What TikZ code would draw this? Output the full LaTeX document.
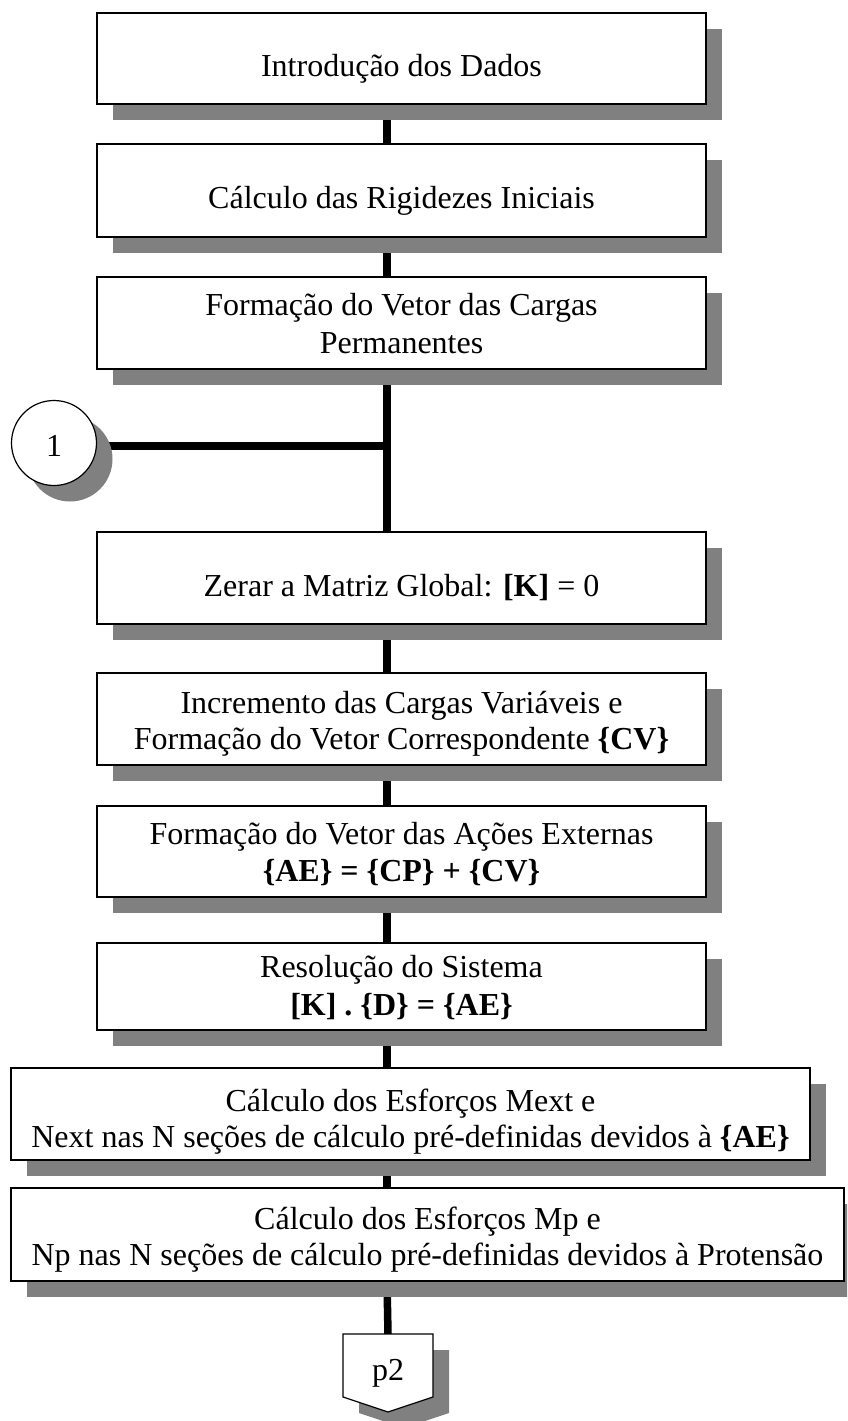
\documentclass[tikz,border=0pt]{standalone}
\usepackage{fontspec}
\setmainfont{Liberation Serif}
\usetikzlibrary{shadows,backgrounds}
\definecolor{shgray}{HTML}{808080}
\begin{document}
\begin{tikzpicture}[x=1pt,y=-1pt,
  box/.style={draw=black, line width=1.6pt, fill=white, rectangle, inner sep=0pt,
    general shadow={fill=shgray, shadow xshift=16pt, shadow yshift=-16pt}},
  circ/.style={draw=black, line width=1.2pt, fill=white, circle, inner sep=0pt, minimum size=85pt,
    general shadow={fill=shgray, shadow xshift=16pt, shadow yshift=-16pt}},
  txt/.style={inner sep=0pt, anchor=base, font=\fontsize{32}{37}\selectfont},
  conn/.style={line width=7.5pt, black}]
\useasboundingbox (0,0) rectangle (847,1421);
\clip (0,0) rectangle (847,1421);

\coordinate (sp) at (387,0);
\coordinate (j) at (387,446);

% boxes
\node[box, minimum width=609pt, minimum height=91pt] (b1) at (401.5,58.5) {};
\node[box, minimum width=609pt, minimum height=93pt] (b2) at (401.5,190.5) {};
\node[box, minimum width=609pt, minimum height=92pt] (b3) at (401.5,323) {};
\node[box, minimum width=609pt, minimum height=92pt] (b4) at (401.5,578) {};
\node[box, minimum width=609pt, minimum height=92pt] (b5) at (401.5,719) {};
\node[box, minimum width=609pt, minimum height=91pt] (b6) at (401.5,851.5) {};
\node[box, minimum width=609pt, minimum height=87pt] (b8) at (401.5,986.5) {};
\node[box, minimum width=799pt, minimum height=92pt] (b9) at (410.5,1114) {};
\node[box, minimum width=833pt, minimum height=93pt] (b10) at (427.5,1234.5) {};

% connector circle
\node[circ] (c1) at (54,443) {};
\node[txt] (c1t) at (54,456) {1};

% off-page connector
\fill[shgray] (359,1350) -- (449,1350) -- (449,1413) -- (404,1428) -- (359,1413) -- cycle;
\draw[line width=1.2pt, fill=white] (343,1334) -- (433,1334) -- (433,1397) -- (388,1412) -- (343,1397) -- cycle;
\coordinate (ptop) at (388,1334);
\node[txt] (p2) at (388,1380) {p2};

% texts
\node[txt] (t1) at (401.5,77) {Introdução dos Dados};
\node[txt] (t2) at (401.5,208) {Cálculo das Rigidezes Iniciais};
\node[txt] (t3a) at (401.5,315) {Formação do Vetor das Cargas};
\node[txt] (t3b) at (401.5,353) {Permanentes};
\node[txt] (t4) at (401.5,596) {Zerar a Matriz Global: \textbf{[K]} = 0};
\node[txt] (t5a) at (401.5,713) {Incremento das Cargas Variáveis e};
\node[txt] (t5b) at (401.5,749) {Formação do Vetor Correspondente \textbf{\{CV\}}};
\node[txt] (t6a) at (401.5,844) {Formação do Vetor das Ações Externas};
\node[txt] (t6b) at (401.5,881) {\textbf{\{AE\} = \{CP\} + \{CV\}}};
\node[txt] (t8a) at (401.5,977) {Resolução do Sistema};
\node[txt] (t8b) at (401.5,1015) {\textbf{[K] . \{D\} = \{AE\}}};
\node[txt] (t9a) at (410.5,1111) {Cálculo dos Esforços Mext e};
\node[txt] (t9b) at (410.5,1147) {Next nas N seções de cálculo pré-definidas devidos à \textbf{\{AE\}}};
\node[txt] (t10a) at (427.5,1229) {Cálculo dos Esforços Mp e};
\node[txt] (t10b) at (427.5,1265) {Np nas N seções de cálculo pré-definidas devidos à Protensão};

\begin{scope}[on background layer]
\draw[conn] (b1.south -| sp) -- (b2.north -| sp);
\draw[conn] (b2.south -| sp) -- (b3.north -| sp);
\draw[conn] (b3.south -| sp) -- (j) -- (b4.north -| sp);
\draw[conn] (j) -- (j -| c1.east);
\draw[conn] (b4.south -| sp) -- (b5.north -| sp);
\draw[conn] (b5.south -| sp) -- (b6.north -| sp);
\draw[conn] (b6.south -| sp) -- (b8.north -| sp);
\draw[conn] (b8.south -| sp) -- (b9.north -| sp);
\draw[conn] (b9.south -| sp) -- (b10.north -| sp);
\draw[conn] (b10.south -| sp) -- (ptop);
\end{scope}
\end{tikzpicture}
\end{document}
